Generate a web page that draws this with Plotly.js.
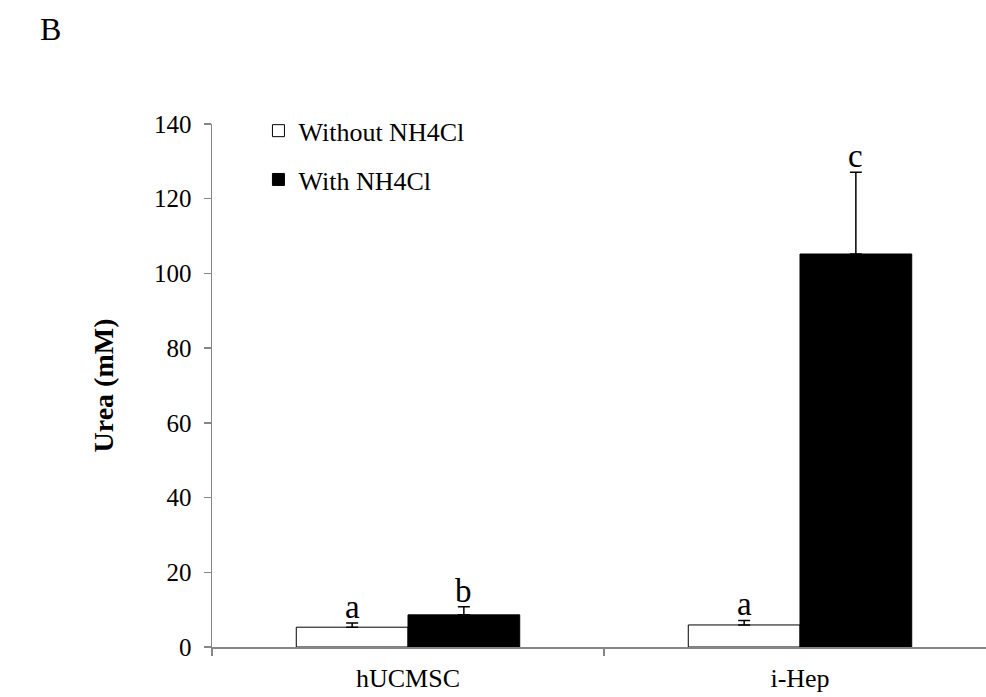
<!DOCTYPE html>
<html>
<head>
<meta charset="utf-8">
<script src="https://cdn.plot.ly/plotly-3.0.1.min.js"></script>
<style>html,body{margin:0;padding:0;background:#fff;}#chart{width:986px;height:697px;}</style>
</head>
<body>
<div id="chart"></div>
<script>
var categories = ['hUCMSC', 'i-Hep'];
var seriesNames = ['Without NH4Cl', 'With NH4Cl'];
var withoutVals = [5.3, 5.9];
var withoutErr = [1.1, 1.2];
var withVals = [8.6, 105.2];
var withErr = [2.2, 21.9];
var withoutLetters = ['a', 'a'];
var withLetters = ['b', 'c'];
var yTicks = [0, 20, 40, 60, 80, 100, 120, 140];

var serif = "'Liberation Serif', 'Times New Roman', serif";
var bargap = 0.43;

function barTrace(name, vals, errs, fill, group) {
  return {
    type: 'bar', name: name, x: categories, y: vals,
    legendgroup: group,
    marker: {color: fill, line: {color: '#000', width: 1}},
    error_y: {type: 'data', symmetric: false, array: errs,
      arrayminus: errs.map(function(){return 0;}),
      color: '#000', thickness: 1.5, width: 6}
  };
}

var traces = [
  barTrace(seriesNames[0], withoutVals, withoutErr, '#ffffff', 'g1'),
  barTrace(seriesNames[1], withVals, withErr, '#000000', 'g2')
];

var pw = 986 - 212 - 0, ph = 697 - 124 - 50;
var half = (1 - bargap) / 4;
var annotations = [];
categories.forEach(function(c, i) {
  annotations.push({x: i - half, y: withoutVals[i] + withoutErr[i], xref: 'x', yref: 'y',
    text: withoutLetters[i], showarrow: false, yanchor: 'bottom', yshift: -4,
    font: {family: serif, size: 33, color: '#000'}});
  annotations.push({x: i + half, y: withVals[i] + withErr[i], xref: 'x', yref: 'y',
    text: withLetters[i], showarrow: false, yanchor: 'bottom', yshift: -4,
    font: {family: serif, size: 33, color: '#000'}});
});
annotations.push({x: (38 - 212) / pw, y: (647 - 29) / ph, xref: 'paper', yref: 'paper', text: 'B',
  showarrow: false, xanchor: 'left', yanchor: 'middle',
  font: {family: serif, size: 32, color: '#000'}});

var layout = {
  width: 986, height: 697,
  margin: {l: 212, r: 0, t: 124, b: 50},
  paper_bgcolor: '#fff', plot_bgcolor: '#fff',
  barmode: 'group', bargap: bargap, bargroupgap: 0,
  font: {family: serif, size: 25, color: '#000'},
  showlegend: true,
  legend: {x: 0.06, y: 1.032, xanchor: 'left', yanchor: 'top',
    traceorder: 'grouped', tracegroupgap: 12,
    bgcolor: 'rgba(0,0,0,0)', font: {family: serif, size: 26, color: '#000'}},
  xaxis: {
    type: 'category', range: [-0.5, -0.5 + 774 / 392],
    showline: true, linecolor: '#868686', linewidth: 1.5,
    ticks: 'outside', tickson: 'boundaries', ticklen: 7, tickcolor: '#868686', tickwidth: 1.5,
    ticklabelstandoff: 7,
    showgrid: false, zeroline: false,
    tickfont: {family: serif, size: 26, color: '#000'}
  },
  yaxis: {
    range: [0, 140], tickvals: yTicks, ticktext: yTicks.map(String),
    showline: true, linecolor: '#868686', linewidth: 1.5,
    ticks: 'outside', ticklen: 7, tickcolor: '#868686', tickwidth: 1.5,
    ticklabelstandoff: 7,
    showgrid: false, zeroline: false,
    tickfont: {family: serif, size: 25, color: '#000'},
    title: {text: '<b>Urea (mM)</b>', standoff: 32,
      font: {family: serif, size: 28, color: '#000'}}
  },
  annotations: annotations
};

Plotly.newPlot('chart', traces, layout, {displayModeBar: false, staticPlot: true});
</script>
</body>
</html>
